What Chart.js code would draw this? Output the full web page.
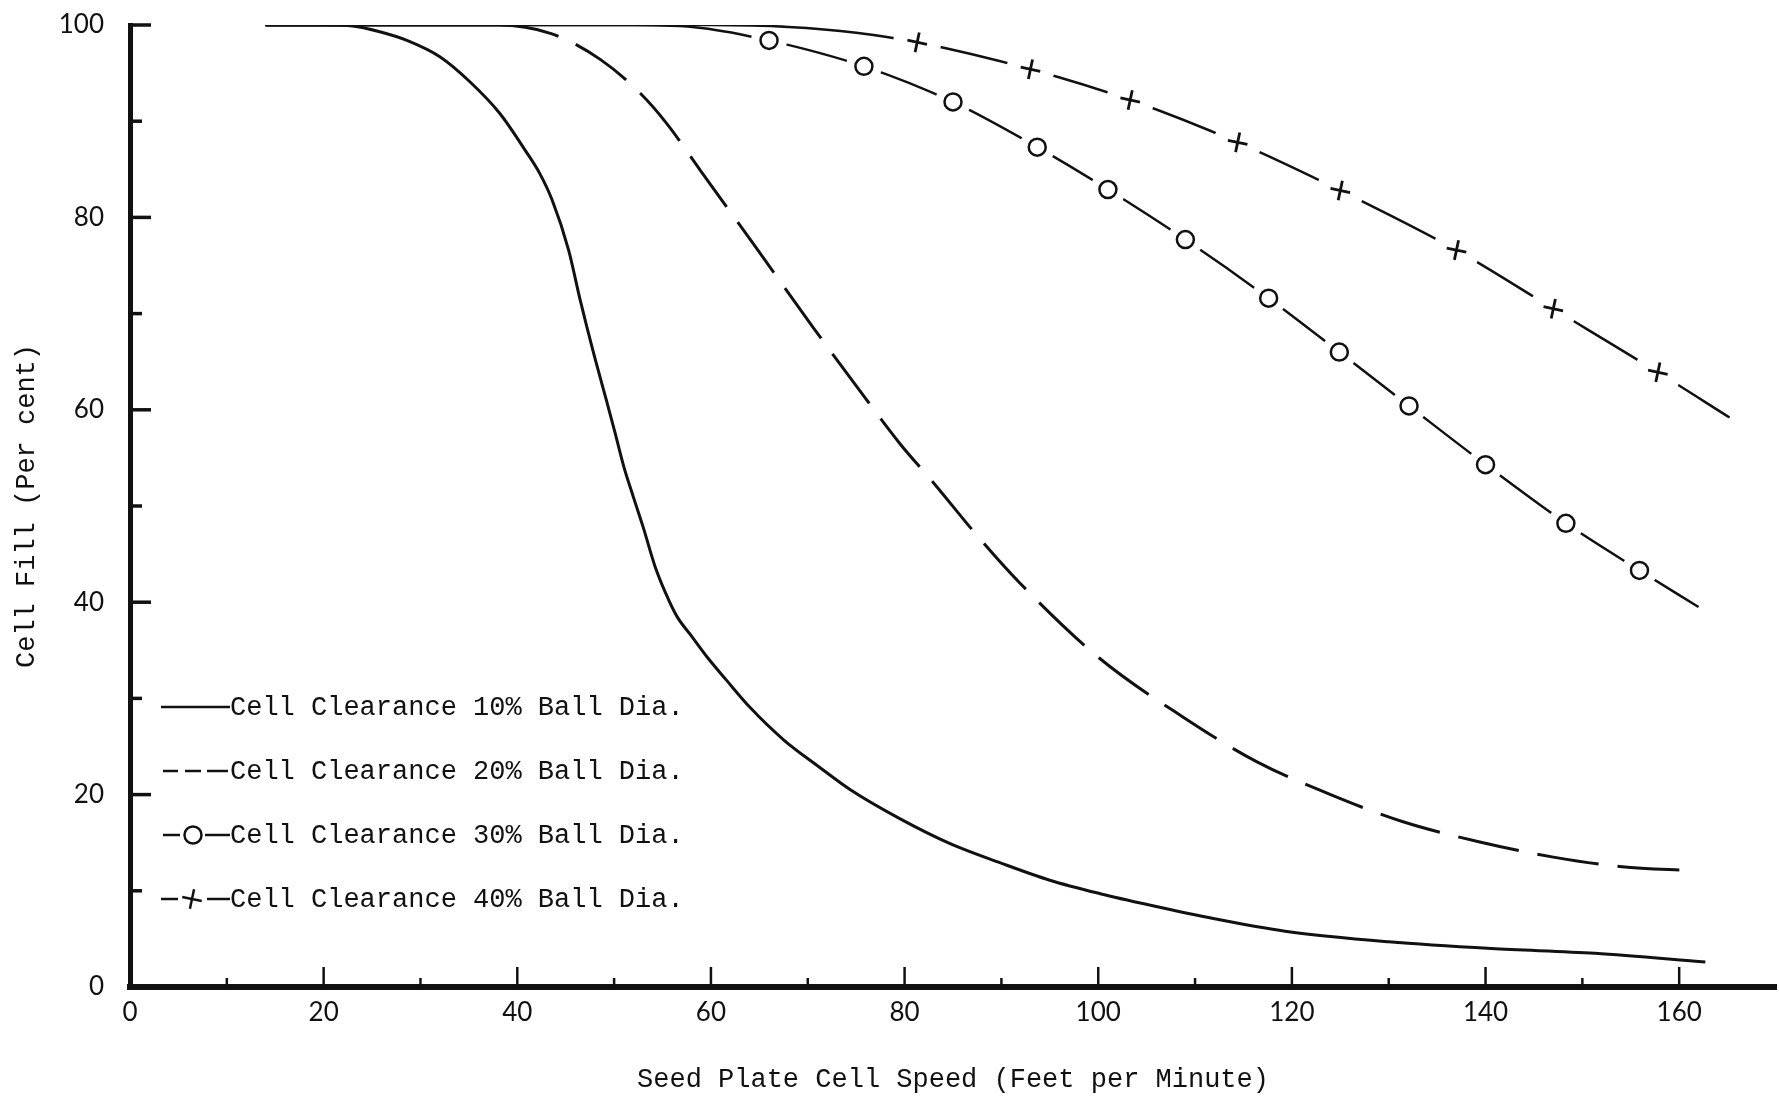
<!DOCTYPE html>
<html>
<head>
<meta charset="utf-8">
<script src="https://cdn.jsdelivr.net/npm/chart.js@4.4.1/dist/chart.umd.min.js"></script>
<style>
  html, body { margin: 0; padding: 0; background: #ffffff; }
  canvas { display: block; }
</style>
</head>
<body>
<canvas id="chart" width="1779" height="1102"></canvas>
<script>
// ---------------- data ----------------
const xTickValues = [0, 20, 40, 60, 80, 100, 120, 140, 160];
const yTickValues = [0, 20, 40, 60, 80, 100];
const xTickMarks = [10, 20, 30, 40, 50, 60, 70, 80, 90, 100, 110, 120, 130, 140, 150, 160];
const yTickMarks = [10, 20, 30, 40, 50, 60, 70, 80, 90, 100];

const xAxisTitle = 'Seed Plate Cell Speed (Feet per Minute)';
const yAxisTitle = 'Cell Fill (Per cent)';
const seriesNames = [
  'Cell Clearance 10% Ball Dia.',
  'Cell Clearance 20% Ball Dia.',
  'Cell Clearance 30% Ball Dia.',
  'Cell Clearance 40% Ball Dia.'
];

// 10% clearance (solid curve)
const s10X = [14, 20, 23, 25.8, 28.6, 32.0, 35.1, 38.2, 40.8, 42.3, 43.6, 45.3, 46.5, 47.8, 49.2, 50.1, 51.0, 52.0, 53.0, 54.2, 55.3, 56.5, 57.9, 59.6, 61.6, 64.0, 67.5, 71.0, 74.4, 79.5, 84.7, 89.9, 95.0, 100.2, 105.4, 112.0, 119.3, 130.0, 140.6, 151.3, 162.7];
const s10Y = [100, 100, 99.9, 99.3, 98.4, 96.7, 94.1, 90.8, 87.0, 84.6, 81.8, 76.6, 71.4, 66.2, 61.0, 57.6, 54.1, 50.9, 47.8, 43.8, 41.0, 38.5, 36.6, 34.3, 31.9, 29.1, 25.7, 23.0, 20.5, 17.5, 14.9, 12.9, 11.1, 9.7, 8.5, 7.1, 5.8, 4.7, 4.0, 3.5, 2.6];

// 20% clearance (dashed curve)
const s20X = [14, 30, 38, 43.5, 48.6, 52.7, 55.4, 58.9, 64.7, 70.6, 76.1, 79.5, 83.0, 87.6, 91.9, 100.1, 108.7, 116.4, 124.0, 131.4, 139.3, 147.0, 154.1, 161.3];
const s20Y = [100, 100, 100, 99.1, 96.4, 92.9, 89.8, 84.9, 76.8, 68.5, 61.0, 56.5, 52.4, 46.8, 42.0, 34.2, 28.1, 23.4, 20.0, 17.2, 15.1, 13.5, 12.5, 12.1];

// 30% clearance (circles)
const s30LeadX = [14, 52, 59];
const s30LeadY = [100, 100, 99.7];
const s30MarkX = [66.0, 75.8, 85.0, 93.7, 101.0, 109.0, 117.6, 124.9, 132.1, 140.0, 148.3, 155.9];
const s30MarkY = [98.4, 95.7, 92.0, 87.3, 82.9, 77.7, 71.6, 66.0, 60.4, 54.3, 48.2, 43.3];
const s30TailX = [162.0];
const s30TailY = [39.5];

// 40% clearance (crosses)
const s40LeadX = [14, 60, 68, 75];
const s40LeadY = [100, 100, 99.8, 99.2];
const s40MarkX = [81.3, 93.0, 103.3, 114.4, 125.0, 137.0, 147.0, 157.8];
const s40MarkY = [98.2, 95.4, 92.2, 87.8, 82.8, 76.6, 70.5, 63.9];
const s40TailX = [165.2];
const s40TailY = [59.2];

// ---------------- helpers ----------------
function pts(xs, ys) { return xs.map((x, i) => ({ x: x, y: ys[i] })); }

const INK = '#111111';
const monoFont = '"Liberation Mono", "DejaVu Sans Mono", monospace';
const numFont = 'Lato, "Open Sans", sans-serif';

// tick marks drawn inside the plot area, using the library's scales
const innerTicks = {
  id: 'innerTicks',
  afterDraw(chart) {
    const { ctx, scales: { x, y } } = chart;
    ctx.save();
    ctx.strokeStyle = INK;
    ctx.lineCap = 'butt';
    yTickMarks.forEach(v => {
      const py = y.getPixelForValue(v);
      const len = (v % 20 === 0) ? 21 : 12;
      ctx.lineWidth = 3.5;
      ctx.beginPath();
      ctx.moveTo(x.left, py);
      ctx.lineTo(x.left + len, py);
      ctx.stroke();
    });
    xTickMarks.forEach(v => {
      const px = x.getPixelForValue(v);
      const len = (v % 20 === 0) ? 20 : 9;
      ctx.lineWidth = 2.5;
      ctx.beginPath();
      ctx.moveTo(px, y.bottom);
      ctx.lineTo(px, y.bottom - len);
      ctx.stroke();
    });
    ctx.restore();
  }
};

// typewritten legend inside the plot area
const typedLegend = {
  id: 'typedLegend',
  afterDraw(chart) {
    const ctx = chart.ctx;
    const a = chart.chartArea;
    ctx.save();
    ctx.fillStyle = INK;
    ctx.strokeStyle = INK;
    ctx.lineWidth = 2.5;
    ctx.font = '27px ' + monoFont;
    ctx.textBaseline = 'middle';
    ctx.textAlign = 'left';
    const sx = a.left + 31;
    const tx = a.left + 100;
    seriesNames.forEach((name, i) => {
      const yy = a.bottom - 280 + i * 64;
      const seg = (x1, x2) => { ctx.beginPath(); ctx.moveTo(x1, yy); ctx.lineTo(x2, yy); ctx.stroke(); };
      if (i === 0) {
        seg(sx, sx + 69);
      } else if (i === 1) {
        seg(sx + 2, sx + 17); seg(sx + 24, sx + 40); seg(sx + 46, sx + 67);
      } else if (i === 2) {
        seg(sx + 2, sx + 19);
        ctx.beginPath(); ctx.arc(sx + 32, yy, 8.5, 0, Math.PI * 2); ctx.stroke();
        seg(sx + 44, sx + 69);
      } else {
        seg(sx, sx + 17);
        const cx = sx + 31, r = 10, rot = 12 * Math.PI / 180;
        ctx.beginPath();
        ctx.moveTo(cx - r * Math.cos(rot), yy - r * Math.sin(rot));
        ctx.lineTo(cx + r * Math.cos(rot), yy + r * Math.sin(rot));
        ctx.moveTo(cx + r * Math.sin(rot), yy - r * Math.cos(rot));
        ctx.lineTo(cx - r * Math.sin(rot), yy + r * Math.cos(rot));
        ctx.stroke();
        seg(sx + 46, sx + 69);
      }
      ctx.fillText(name, tx, yy + 1);
    });
    ctx.restore();
  }
};

const ctx = document.getElementById('chart').getContext('2d');
new Chart(ctx, {
  type: 'line',
  data: {
    datasets: [
      // 30% line, halo, markers
      {
        label: seriesNames[2],
        data: pts([...s30LeadX, ...s30MarkX, ...s30TailX], [...s30LeadY, ...s30MarkY, ...s30TailY]),
        borderColor: INK, borderWidth: 2.5, pointRadius: 0, fill: false,
        cubicInterpolationMode: 'monotone', order: 9
      },
      {
        label: 'halo30',
        data: pts(s30MarkX, s30MarkY),
        showLine: false, pointRadius: 18, pointBackgroundColor: '#ffffff',
        pointBorderColor: '#ffffff', pointBorderWidth: 0, order: 8
      },
      {
        label: 'mark30',
        data: pts(s30MarkX, s30MarkY),
        showLine: false, pointStyle: 'circle', pointRadius: 8.5,
        pointBackgroundColor: '#ffffff', pointBorderColor: INK, pointBorderWidth: 2.5, order: 7
      },
      // 40% line, halo, markers
      {
        label: seriesNames[3],
        data: pts([...s40LeadX, ...s40MarkX, ...s40TailX], [...s40LeadY, ...s40MarkY, ...s40TailY]),
        borderColor: INK, borderWidth: 2.5, pointRadius: 0, fill: false,
        cubicInterpolationMode: 'monotone', order: 6
      },
      {
        label: 'halo40',
        data: pts(s40MarkX, s40MarkY),
        showLine: false, pointRadius: 24, pointBackgroundColor: '#ffffff',
        pointBorderColor: '#ffffff', pointBorderWidth: 0, order: 5
      },
      {
        label: 'mark40',
        data: pts(s40MarkX, s40MarkY),
        showLine: false, pointStyle: 'cross', pointRadius: 10, pointRotation: 12,
        pointBorderColor: INK, pointBorderWidth: 2.8, order: 4
      },
      // 20% dashed
      {
        label: seriesNames[1],
        data: pts(s20X, s20Y),
        borderColor: INK, borderWidth: 3, pointRadius: 0, fill: false,
        cubicInterpolationMode: 'monotone', order: 2,
        segment: {
          borderDash: c => (c.p0.parsed.y >= 100 && c.p1.parsed.y >= 100) ? [] : [62, 19]
        }
      },
      // 10% solid
      {
        label: seriesNames[0],
        data: pts(s10X, s10Y),
        borderColor: INK, borderWidth: 3, pointRadius: 0, fill: false,
        cubicInterpolationMode: 'monotone', order: 1
      }
    ]
  },
  options: {
    responsive: false,
    animation: false,
    devicePixelRatio: 1,
    events: [],
    layout: { autoPadding: false, padding: { top: 25, right: 3, bottom: 0, left: 0 } },
    plugins: {
      legend: { display: false },
      tooltip: { enabled: false },
      title: { display: false }
    },
    scales: {
      x: {
        type: 'linear',
        position: 'bottom',
        min: 0, max: 170,
        afterBuildTicks: s => { s.ticks = xTickValues.map(v => ({ value: v })); },
        afterFit: s => { s.height = 115; s.paddingLeft = 0; s.paddingRight = 0; },
        grid: { drawOnChartArea: false, drawTicks: false },
        border: { display: true, color: INK, width: 6 },
        ticks: {
          color: INK, padding: 10,
          font: { family: numFont, size: 26, lineHeight: 1.2 },
          maxRotation: 0, autoSkip: false
        },
        title: {
          display: true, text: xAxisTitle, color: INK,
          font: { family: monoFont, size: 27, lineHeight: 1.2 },
          padding: { top: 0, bottom: 6 }
        }
      },
      y: {
        type: 'linear',
        position: 'left',
        min: 0, max: 100,
        afterBuildTicks: s => { s.ticks = yTickValues.map(v => ({ value: v })); },
        afterFit: s => { s.width = 130; s.paddingTop = 0; s.paddingBottom = 0; },
        grid: { drawOnChartArea: false, drawTicks: false },
        border: { display: true, color: INK, width: 5 },
        ticks: {
          color: INK, padding: 26,
          font: { family: numFont, size: 26, lineHeight: 1.2 },
          autoSkip: false
        },
        title: {
          display: true, text: yAxisTitle, color: INK,
          font: { family: monoFont, size: 27, lineHeight: 1.2 },
          padding: { top: 11, bottom: 0 }
        }
      }
    }
  },
  plugins: [innerTicks, typedLegend]
});
</script>
</body>
</html>
